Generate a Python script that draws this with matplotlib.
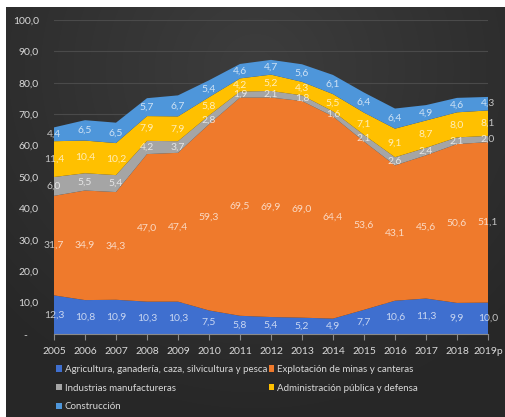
import numpy as np
import matplotlib
matplotlib.use("Agg")
import matplotlib.pyplot as plt
from matplotlib.patches import Patch
from matplotlib.ticker import FuncFormatter

plt.rcParams['font.family'] = ['Lato', 'DejaVu Sans']

years = ["2005", "2006", "2007", "2008", "2009", "2010", "2011", "2012",
         "2013", "2014", "2015", "2016", "2017", "2018", "2019p"]

agricultura = [12.3, 10.8, 10.9, 10.3, 10.3, 7.5, 5.8, 5.4, 5.2, 4.9, 7.7, 10.6, 11.3, 9.9, 10.0]
mineria = [31.7, 34.9, 34.3, 47.0, 47.4, 59.3, 69.5, 69.9, 69.0, 64.4, 53.6, 43.1, 45.6, 50.6, 51.1]
manufactura = [6.0, 5.5, 5.4, 4.2, 3.7, 2.8, 1.9, 2.1, 1.8, 1.6, 2.1, 2.6, 2.4, 2.1, 2.0]
administracion = [11.4, 10.4, 10.2, 7.9, 7.9, 5.8, 4.2, 5.2, 4.3, 5.5, 7.1, 9.1, 8.7, 8.0, 8.1]
construccion = [4.4, 6.5, 6.5, 5.7, 6.7, 5.4, 4.6, 4.7, 5.6, 6.1, 6.4, 6.4, 4.9, 4.6, 4.3]

series = [agricultura, mineria, manufactura, administracion, construccion]
names = ["Agricultura, ganadería, caza, silvicultura y pesca",
         "Explotación de minas y canteras",
         "Industrias manufactureras",
         "Administración pública y defensa",
         "Construcción"]
colors = ["#3F6FCF", "#EF7A2C", "#A5A5A5", "#FFC000", "#4E96DA"]

W, H = 505, 417
fig = plt.figure(figsize=(W / 100, H / 100), dpi=100)
fig.patch.set_facecolor("white")

# dark radial background panel with a thin white margin top/left
bg = fig.add_axes([6 / W, 0, 1 - 6 / W, 1 - 7 / H])
bg.set_axis_off()
yy, xx = np.mgrid[0:1:200j, 0:1:240j]
r = np.sqrt(((xx - 0.5) / 0.75) ** 2 + ((yy - 0.15) / 0.9) ** 2)
shade = np.clip(0.24 - 0.09 * r, 0.155, 0.24)
img = np.dstack([shade, shade, shade])
bg.imshow(img, aspect="auto", extent=[0, 1, 1, 0], interpolation="bilinear")
bg.set_xlim(0, 1)
bg.set_ylim(1, 0)

ax = fig.add_axes([54 / W, 83 / H, (488 - 54) / W, (397 - 83) / H])
ax.set_facecolor("none")

x = np.arange(len(years))
ax.stackplot(x, *series, colors=colors, zorder=2, linewidth=0)

ax.set_xlim(0, len(years) - 1)
ax.set_ylim(0, 100)
ax.set_yticks(np.arange(0, 101, 10))
ax.yaxis.set_major_formatter(FuncFormatter(
    lambda v, p: "-    " if abs(v) < 1e-9 else f"{v:.1f}".replace(".", ",")))
ax.grid(axis="y", color="#4a4a4a", linewidth=0.8, zorder=0)
ax.set_axisbelow(True)

for s in ["top", "right", "left"]:
    ax.spines[s].set_visible(False)
ax.spines["bottom"].set_color("#8a8a8a")
ax.spines["bottom"].set_linewidth(0.8)
ax.spines["bottom"].set_zorder(3)

ax.set_xticks(x)
ax.set_xticklabels(years)
ax.tick_params(axis="x", colors="#8a8a8a", length=4, width=0.8, labelcolor="#d9d9d9",
               labelsize=7.5, pad=5)
ax.tick_params(axis="y", length=0, labelcolor="#d9d9d9", labelsize=7.5, pad=11)

# value labels at the centre of each band
base = np.zeros(len(years))
for vals in series:
    vals = np.asarray(vals)
    mids = base + vals / 2
    for xi, (m, v) in enumerate(zip(mids, vals)):
        ax.text(xi, m, f"{v:.1f}".replace(".", ","), ha="center", va="center",
                fontsize=7.5, color="white", alpha=0.72, zorder=4, clip_on=False)
    base = base + vals

handles = [Patch(facecolor=c, edgecolor="none") for c in colors]
order = [0, 2, 4, 1, 3]
fig.legend([handles[i] for i in order], [names[i] for i in order],
           loc="upper left", bbox_to_anchor=(56 / W, 1 - 365 / H), ncol=2,
           frameon=False, fontsize=7, labelcolor="#d9d9d9",
           handlelength=0.6, handleheight=0.6, handletextpad=0.3,
           columnspacing=0.15, labelspacing=1.0, borderaxespad=0, borderpad=0)

fig.savefig("out.png", dpi=100, facecolor=fig.get_facecolor())
